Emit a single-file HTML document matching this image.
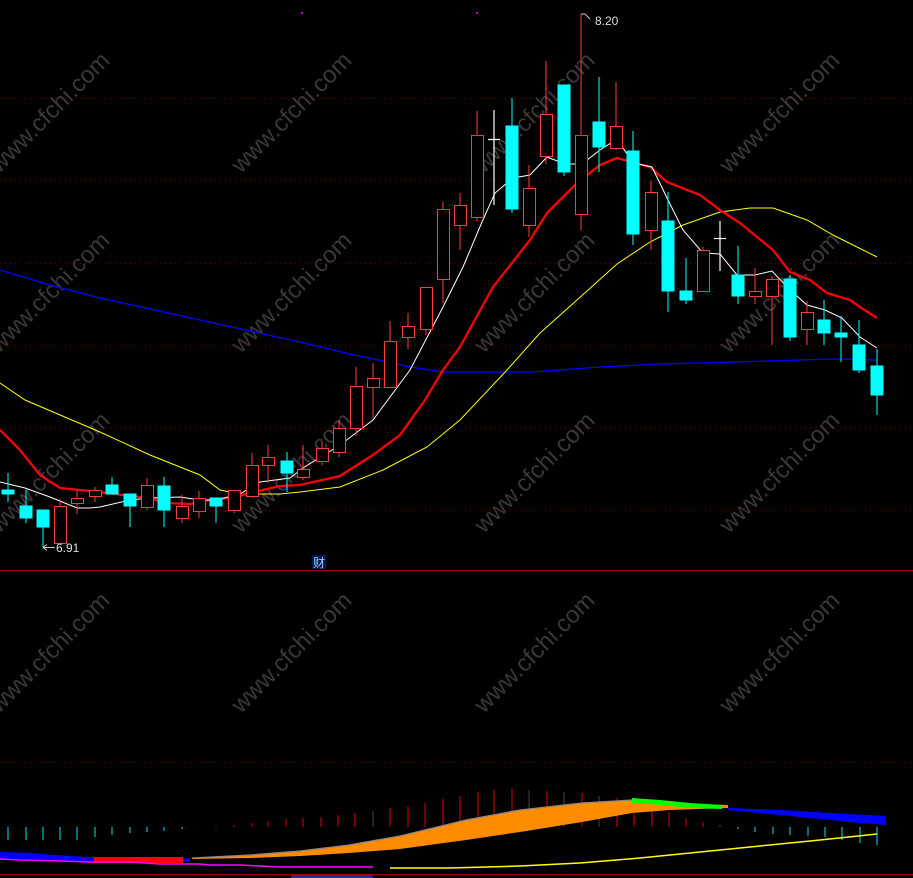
<!DOCTYPE html>
<html><head><meta charset="utf-8"><style>
html,body{margin:0;padding:0;background:#000;}
svg{display:block}
</style></head><body>
<svg width="913" height="878" viewBox="0 0 913 878" xmlns="http://www.w3.org/2000/svg" font-family="Liberation Sans, Noto Sans CJK SC, sans-serif">
<rect width="913" height="878" fill="#000"/>
<g fill="#383838" font-size="24">
<text transform="translate(55,118) rotate(-45)" text-anchor="middle">www.cfchi.com</text>
<text transform="translate(297,118) rotate(-45)" text-anchor="middle">www.cfchi.com</text>
<text transform="translate(540,118) rotate(-45)" text-anchor="middle">www.cfchi.com</text>
<text transform="translate(785,118) rotate(-45)" text-anchor="middle">www.cfchi.com</text>
<text transform="translate(55,298) rotate(-45)" text-anchor="middle">www.cfchi.com</text>
<text transform="translate(297,298) rotate(-45)" text-anchor="middle">www.cfchi.com</text>
<text transform="translate(540,298) rotate(-45)" text-anchor="middle">www.cfchi.com</text>
<text transform="translate(785,298) rotate(-45)" text-anchor="middle">www.cfchi.com</text>
<text transform="translate(55,478) rotate(-45)" text-anchor="middle">www.cfchi.com</text>
<text transform="translate(297,478) rotate(-45)" text-anchor="middle">www.cfchi.com</text>
<text transform="translate(540,478) rotate(-45)" text-anchor="middle">www.cfchi.com</text>
<text transform="translate(785,478) rotate(-45)" text-anchor="middle">www.cfchi.com</text>
<text transform="translate(55,658) rotate(-45)" text-anchor="middle">www.cfchi.com</text>
<text transform="translate(297,658) rotate(-45)" text-anchor="middle">www.cfchi.com</text>
<text transform="translate(540,658) rotate(-45)" text-anchor="middle">www.cfchi.com</text>
<text transform="translate(785,658) rotate(-45)" text-anchor="middle">www.cfchi.com</text>
</g>
<g stroke="#5c0000" stroke-width="1" stroke-dasharray="1,4">
<line x1="0" y1="98.5" x2="913" y2="98.5"/>
<line x1="0" y1="180.5" x2="913" y2="180.5"/>
<line x1="0" y1="263.5" x2="913" y2="263.5"/>
<line x1="0" y1="345.5" x2="913" y2="345.5"/>
<line x1="0" y1="428.5" x2="913" y2="428.5"/>
<line x1="0" y1="510.5" x2="913" y2="510.5"/>
<line x1="0" y1="762.5" x2="913" y2="762.5"/>
</g>
<line x1="0" y1="570.5" x2="913" y2="570.5" stroke="#a00000" stroke-width="1"/>
<line x1="0" y1="874.5" x2="913" y2="874.5" stroke="#a00000" stroke-width="1"/>
<circle cx="302" cy="13" r="1" fill="#ff00ff"/>
<circle cx="477" cy="13" r="1" fill="#ff00ff"/>

<polyline fill="none" stroke="#0000ff" stroke-width="1.3" points="0,270 50,285 100,298 200,320 300,342 350,354 410,367 443,372 533,372 600,367 660,364 733,362 833,359 877,360"/>
<polyline fill="none" stroke="#ffff00" stroke-width="1" points="0,383 25,400 100,432 150,455 200,475 220,490 240,494 280,494 300,492 340,487 383,470 427,447 460,420 507,370 540,333 577,300 617,264 650,242 683,225 720,212 750,208 773,208 807,220 833,235 877,257"/>
<polyline fill="none" stroke="#ff0000" stroke-width="2.3" points="0,430 20,450 40,475 60,488 80,490 100,492 130,496 150,498 165,503 190,504 210,500 230,498 250,493 280,486 300,485 340,476 373,455 400,435 425,400 443,370 460,347 493,287 530,240 547,213 577,183 600,165 617,158 650,167 667,182 700,195 720,210 740,223 757,237 773,250 790,272 810,280 827,293 850,300 860,307 877,318"/>
<polyline fill="none" stroke="#ffffff" stroke-width="1" points="0,482 25,488 50,497 77,508 90,508 100,507 130,500 150,498 180,497 200,500 216,500 240,494 260,482 290,478 303,468 340,445 373,420 410,370 443,307 463,267 482,222 495,193 513,178 530,175 547,157 565,164 582,164 600,150 617,139 633,163 652,167 668,200 683,230 703,253 720,254 737,275 755,275 772,271 790,290 807,305 825,310 842,318 860,337 877,348"/>

<g fill="#00ffff" stroke="#00ffff" stroke-width="1">
<line x1="8" y1="473" x2="8" y2="502"/><rect x="2" y="490" width="12" height="4"/>
<line x1="26" y1="490" x2="26" y2="523"/><rect x="20" y="506" width="12" height="12"/>
<line x1="43" y1="510" x2="43" y2="547"/><rect x="37" y="510" width="12" height="17"/>
<line x1="112" y1="477" x2="112" y2="494"/><rect x="106" y="485" width="12" height="9"/>
<line x1="130" y1="494" x2="130" y2="527"/><rect x="124" y="494" width="12" height="12"/>
<line x1="164" y1="477" x2="164" y2="527"/><rect x="158" y="486" width="12" height="24"/>
<line x1="216" y1="498" x2="216" y2="523"/><rect x="210" y="498" width="12" height="8"/>
<line x1="287" y1="452" x2="287" y2="492"/><rect x="281" y="461" width="12" height="12"/>
<line x1="512" y1="98" x2="512" y2="213"/><rect x="506" y="126" width="12" height="83"/>
<line x1="564" y1="85" x2="564" y2="176"/><rect x="558" y="85" width="12" height="87"/>
<line x1="599" y1="77" x2="599" y2="172"/><rect x="593" y="122" width="12" height="25"/>
<line x1="633" y1="131" x2="633" y2="245"/><rect x="627" y="151" width="12" height="83"/>
<line x1="668" y1="192" x2="668" y2="312"/><rect x="662" y="221" width="12" height="70"/>
<line x1="686" y1="258" x2="686" y2="304"/><rect x="680" y="291" width="12" height="9"/>
<line x1="738" y1="246" x2="738" y2="304"/><rect x="732" y="275" width="12" height="21"/>
<line x1="790" y1="275" x2="790" y2="341"/><rect x="784" y="279" width="12" height="58"/>
<line x1="824" y1="300" x2="824" y2="345"/><rect x="818" y="320" width="12" height="13"/>
<line x1="841" y1="316" x2="841" y2="362"/><rect x="835" y="333" width="12" height="4"/>
<line x1="859" y1="320" x2="859" y2="373"/><rect x="853" y="345" width="12" height="25"/>
<line x1="877" y1="349" x2="877" y2="415"/><rect x="871" y="366" width="12" height="29"/>
</g>
<g fill="#000" stroke="#ff3c3c" stroke-width="1">
<line x1="60" y1="499" x2="60" y2="543"/><rect x="54.5" y="506.5" width="12" height="37"/>
<line x1="77" y1="490" x2="77" y2="514"/><rect x="71.5" y="498.5" width="12" height="5"/>
<line x1="95" y1="487" x2="95" y2="502"/><rect x="89.5" y="490.5" width="12" height="6"/>
<line x1="147" y1="478" x2="147" y2="510"/><rect x="141.5" y="485.5" width="12" height="22"/>
<line x1="182" y1="495" x2="182" y2="523"/><rect x="176.5" y="506.5" width="12" height="12"/>
<line x1="199" y1="491" x2="199" y2="518"/><rect x="193.5" y="498.5" width="12" height="13"/>
<line x1="234" y1="490" x2="234" y2="513"/><rect x="228.5" y="490.5" width="12" height="20"/>
<line x1="252" y1="453" x2="252" y2="496"/><rect x="246.5" y="465.5" width="12" height="31"/>
<line x1="268" y1="445" x2="268" y2="483"/><rect x="262.5" y="457.5" width="12" height="8"/>
<line x1="303" y1="445" x2="303" y2="480"/><rect x="297.5" y="469.5" width="12" height="8"/>
<line x1="322" y1="441" x2="322" y2="465"/><rect x="316.5" y="448.5" width="12" height="13"/>
<line x1="339" y1="420" x2="339" y2="457"/><rect x="333.5" y="428.5" width="12" height="24"/>
<line x1="356" y1="367" x2="356" y2="436"/><rect x="350.5" y="386.5" width="12" height="42"/>
<line x1="373" y1="363" x2="373" y2="418"/><rect x="367.5" y="378.5" width="12" height="9"/>
<line x1="390" y1="321" x2="390" y2="387"/><rect x="384.5" y="341.5" width="12" height="46"/>
<line x1="408" y1="313" x2="408" y2="349"/><rect x="402.5" y="326.5" width="12" height="11"/>
<line x1="426" y1="287" x2="426" y2="335"/><rect x="420.5" y="287.5" width="12" height="42"/>
<line x1="443" y1="202" x2="443" y2="303"/><rect x="437.5" y="209.5" width="12" height="70"/>
<line x1="460" y1="193" x2="460" y2="250"/><rect x="454.5" y="205.5" width="12" height="20"/>
<line x1="477" y1="111" x2="477" y2="221"/><rect x="471.5" y="135.5" width="12" height="82"/>
<line x1="529" y1="165" x2="529" y2="237"/><rect x="523.5" y="188.5" width="12" height="37"/>
<line x1="546" y1="61" x2="546" y2="164"/><rect x="540.5" y="114.5" width="12" height="42"/>
<line x1="581" y1="14" x2="581" y2="230"/><rect x="575.5" y="135.5" width="12" height="79"/>
<line x1="616" y1="82" x2="616" y2="150"/><rect x="610.5" y="126.5" width="12" height="22"/>
<line x1="651" y1="181" x2="651" y2="250"/><rect x="645.5" y="192.5" width="12" height="38"/>
<line x1="703" y1="247" x2="703" y2="291"/><rect x="697.5" y="250.5" width="12" height="41"/>
<line x1="755" y1="268" x2="755" y2="304"/><rect x="749.5" y="291.5" width="12" height="5"/>
<line x1="772" y1="276" x2="772" y2="345"/><rect x="766.5" y="279.5" width="12" height="17"/>
<line x1="807" y1="301" x2="807" y2="345"/><rect x="801.5" y="312.5" width="12" height="17"/>
</g>
<g stroke="#fff" stroke-width="1.2">
<line x1="494" y1="110" x2="494" y2="205"/><line x1="488" y1="139.5" x2="500" y2="139.5"/>
<line x1="720" y1="221" x2="720" y2="271"/><line x1="714" y1="238.5" x2="726" y2="238.5"/>
</g>
<polyline points="581,14 585,14 590,19" fill="none" stroke="#ccc" stroke-width="1"/>
<text x="595" y="25" fill="#ddd" font-size="12">8.20</text>
<line x1="43" y1="547.5" x2="55" y2="547.5" stroke="#ccc"/>
<path d="M43,547.5 l4,-3 M43,547.5 l4,3" stroke="#ccc" fill="none"/>
<text x="56" y="552" fill="#ddd" font-size="12">6.91</text>
<rect x="312" y="555" width="14" height="14" fill="#001a4d"/>
<text x="313" y="567" fill="#99ccff" font-size="12">财</text>

<g stroke-width="1">
<g stroke="#00e5e5">
<line x1="8" y1="827" x2="8" y2="840"/><line x1="26" y1="827" x2="26" y2="840"/><line x1="43" y1="827" x2="43" y2="840"/><line x1="60" y1="827" x2="60" y2="840"/><line x1="77" y1="827" x2="77" y2="840"/><line x1="95" y1="827" x2="95" y2="837"/><line x1="112" y1="827" x2="112" y2="835"/><line x1="130" y1="827" x2="130" y2="833"/><line x1="147" y1="827" x2="147" y2="832"/><line x1="164" y1="827" x2="164" y2="831"/><line x1="182" y1="827" x2="182" y2="829"/>
<line x1="738" y1="827" x2="738" y2="829"/><line x1="755" y1="827" x2="755" y2="832"/><line x1="773" y1="827" x2="773" y2="834"/><line x1="790" y1="827" x2="790" y2="835"/><line x1="808" y1="827" x2="808" y2="836"/><line x1="825" y1="827" x2="825" y2="837"/><line x1="842" y1="827" x2="842" y2="840"/><line x1="860" y1="827" x2="860" y2="843"/><line x1="877" y1="827" x2="877" y2="845"/>
</g>
<g stroke="#e00000">
<line x1="216" y1="826" x2="216" y2="827"/><line x1="234" y1="825" x2="234" y2="827"/><line x1="252" y1="823" x2="252" y2="827"/><line x1="268" y1="821" x2="268" y2="827"/><line x1="286" y1="819" x2="286" y2="827"/><line x1="303" y1="818" x2="303" y2="827"/><line x1="321" y1="817" x2="321" y2="827"/><line x1="338" y1="815" x2="338" y2="827"/><line x1="355" y1="813" x2="355" y2="827"/><line x1="390" y1="808" x2="390" y2="827"/><line x1="408" y1="806" x2="408" y2="827"/><line x1="425" y1="803" x2="425" y2="827"/><line x1="443" y1="799" x2="443" y2="827"/><line x1="460" y1="796" x2="460" y2="827"/><line x1="478" y1="792" x2="478" y2="827"/><line x1="494" y1="790" x2="494" y2="827"/><line x1="512" y1="789" x2="512" y2="827"/><line x1="547" y1="791" x2="547" y2="827"/><line x1="582" y1="793" x2="582" y2="827"/><line x1="617" y1="798" x2="617" y2="827"/><line x1="634" y1="800" x2="634" y2="827"/><line x1="652" y1="803" x2="652" y2="827"/><line x1="669" y1="812" x2="669" y2="827"/><line x1="686" y1="818" x2="686" y2="827"/><line x1="703" y1="822" x2="703" y2="827"/>
</g>
<g stroke="#444">
<line x1="373" y1="811" x2="373" y2="827"/><line x1="529" y1="790" x2="529" y2="827"/><line x1="564" y1="792" x2="564" y2="827"/><line x1="599" y1="796" x2="599" y2="827"/><line x1="720" y1="825" x2="720" y2="827"/>
</g>
</g>
<polygon fill="#0000ff" points="0,852 30,853 55,855 87,857 105,858 183,859 190,858 190,862 105,862 87,862 55,860 30,859 0,859"/>
<rect x="94" y="857" width="89" height="6" fill="#ff0000"/>
<polygon fill="#ff8c00" points="192,858 250,855 300,851 349,845 400,836 466,820 520,810 582,803 632,800 670,803 728,805 728,808 670,810 632,813 582,822 520,832 466,840 400,849 349,853 300,856 250,858 192,859"/>
<polyline fill="none" stroke="#888" stroke-width="1.3" points="192,858 250,855 300,851 349,845 400,836 466,820 520,810 582,803 632,800"/>
<polygon fill="#00ff00" points="632,798 660,800 690,803 722,805 722,809 690,808 660,805 632,803"/>
<polygon fill="#0000ff" points="728,808 780,810 830,813 886,816 886,825 850,822 800,817 760,813 728,810"/>
<polyline fill="none" stroke="#ff00ff" stroke-width="1.5" points="0,859 20,860 60,861 90,862 130,862 160,864 200,864 210,865 240,865 280,867 373,867"/>
<polyline fill="none" stroke="#ffff00" stroke-width="1.5" points="390,868 450,868 520,866 580,863 640,858 700,852 760,846 820,840 877,834"/>
<rect x="291" y="875" width="82" height="3" fill="#2a2a8a"/>
</svg>
</body></html>
